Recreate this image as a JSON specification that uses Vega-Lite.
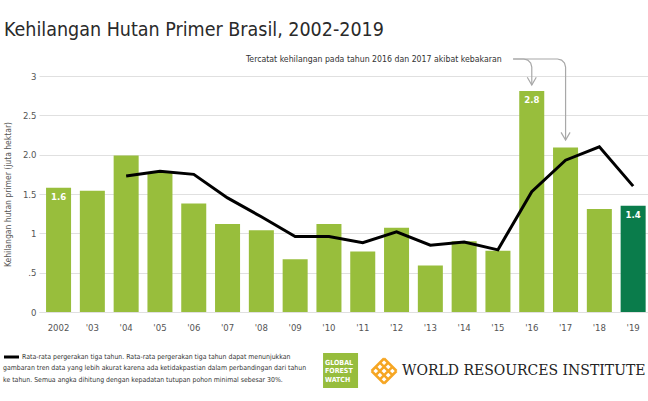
{
  "$schema": "https://vega.github.io/schema/vega-lite/v6.json",
  "width": 609,
  "height": 236,
  "autosize": {"type": "none"},
  "padding": {"left": 39, "top": 76, "right": 0, "bottom": 89},
  "background": "#ffffff",
  "config": {
    "font": "DejaVu Sans Condensed, DejaVu Sans, sans-serif",
    "view": {"stroke": null},
    "axisY": {"domain": false, "ticks": false, "labelColor": "#555555", "labelFontSize": 9.5, "labelPadding": 3, "gridColor": "#e0e0e0", "titleColor": "#555555", "titleFontSize": 8.5, "titleFontWeight": "normal", "titlePadding": 10},
    "axisX": {"domainColor": "#e0e0e0", "ticks": false, "labelColor": "#555555", "labelFontSize": 9.5, "labelPadding": 10, "labelAngle": 0, "grid": false}
  },
  "title": {"text": "Kehilangan Hutan Primer Brasil, 2002-2019", "anchor": "start", "frame": "group", "dx": -35, "fontSize": 19.5, "fontWeight": "normal", "color": "#2a2a2a", "offset": 0, "baseline": "alphabetic"},
  "datasets": {
    "loss": [
      {"yr": "2002", "loss": 1.58, "avg": null, "lbl": "1.6", "period": "past"},
      {"yr": "'03", "loss": 1.54, "avg": null, "lbl": null, "period": "past"},
      {"yr": "'04", "loss": 1.99, "avg": 1.73, "lbl": null, "period": "past"},
      {"yr": "'05", "loss": 1.77, "avg": 1.79, "lbl": null, "period": "past"},
      {"yr": "'06", "loss": 1.38, "avg": 1.75, "lbl": null, "period": "past"},
      {"yr": "'07", "loss": 1.12, "avg": 1.45, "lbl": null, "period": "past"},
      {"yr": "'08", "loss": 1.04, "avg": 1.21, "lbl": null, "period": "past"},
      {"yr": "'09", "loss": 0.67, "avg": 0.96, "lbl": null, "period": "past"},
      {"yr": "'10", "loss": 1.12, "avg": 0.96, "lbl": null, "period": "past"},
      {"yr": "'11", "loss": 0.77, "avg": 0.88, "lbl": null, "period": "past"},
      {"yr": "'12", "loss": 1.07, "avg": 1.02, "lbl": null, "period": "past"},
      {"yr": "'13", "loss": 0.59, "avg": 0.85, "lbl": null, "period": "past"},
      {"yr": "'14", "loss": 0.90, "avg": 0.89, "lbl": null, "period": "past"},
      {"yr": "'15", "loss": 0.78, "avg": 0.79, "lbl": null, "period": "past"},
      {"yr": "'16", "loss": 2.81, "avg": 1.53, "lbl": "2.8", "period": "past"},
      {"yr": "'17", "loss": 2.09, "avg": 1.93, "lbl": null, "period": "past"},
      {"yr": "'18", "loss": 1.31, "avg": 2.10, "lbl": null, "period": "past"},
      {"yr": "'19", "loss": 1.35, "avg": 1.60, "lbl": "1.4", "period": "2019"}
    ],
    "notes": [
      {"kind": "ann", "xq": 2015.11, "val": 3.216, "text": "Tercatat kehilangan pada tahun 2016 dan 2017 akibat kebakaran"},
      {"kind": "foot", "xq": 2000.92, "val": -0.572, "text": "Rata-rata pergerakan tiga tahun. Rata-rata pergerakan tiga tahun dapat menunjukkan"},
      {"kind": "foot", "xq": 2000.36, "val": -0.718, "text": "gambaran tren data yang lebih akurat karena ada ketidakpastian dalam perbandingan dari tahun"},
      {"kind": "foot", "xq": 2000.36, "val": -0.864, "text": "ke tahun. Semua angka dihitung dengan kepadatan tutupan pohon minimal sebesar 30%."},
      {"kind": "gfw", "xq": 2009.885, "val": -0.648, "text": "GLOBAL"},
      {"kind": "gfw", "xq": 2009.885, "val": -0.756, "text": "FOREST"},
      {"kind": "gfw", "xq": 2009.885, "val": -0.864, "text": "WATCH"},
      {"kind": "wri", "xq": 2012.163, "val": -0.75, "text": "WORLD RESOURCES INSTITUTE"},
      {"kind": "gfwbox", "xq": 2010.343, "val": -0.744, "text": ""},
      {"kind": "wriicon", "xq": 2011.63, "val": -0.75, "text": ""},
      {"kind": "tip", "xq": 2016.0, "val": 2.886, "text": ""},
      {"kind": "tip", "xq": 2017.0, "val": 2.186, "text": ""},
      {"kind": "key", "xq": 2000.387, "xq2": 2000.831, "val": -0.572, "text": ""}
    ],
    "arrows": [
      {"arrow": "a16", "seq": 1, "xq": 2015.447, "val": 3.216},
      {"arrow": "a16", "seq": 2, "xq": 2015.763, "val": 3.216},
      {"arrow": "a16", "seq": 3, "xq": 2015.882, "val": 3.202},
      {"arrow": "a16", "seq": 4, "xq": 2015.968, "val": 3.165},
      {"arrow": "a16", "seq": 5, "xq": 2016.0, "val": 3.114},
      {"arrow": "a16", "seq": 6, "xq": 2016.0, "val": 2.886},
      {"arrow": "a17", "seq": 1, "xq": 2015.447, "val": 3.216},
      {"arrow": "a17", "seq": 2, "xq": 2016.763, "val": 3.216},
      {"arrow": "a17", "seq": 3, "xq": 2016.882, "val": 3.202},
      {"arrow": "a17", "seq": 4, "xq": 2016.968, "val": 3.165},
      {"arrow": "a17", "seq": 5, "xq": 2017.0, "val": 3.114},
      {"arrow": "a17", "seq": 6, "xq": 2017.0, "val": 2.186}
    ]
  },
  "resolve": {"scale": {"x": "independent"}},
  "layer": [
    {
      "data": {"name": "loss"},
      "encoding": {
        "x": {"field": "yr", "type": "nominal", "title": null, "sort": null,
              "scale": {"domain": ["2002", "'03", "'04", "'05", "'06", "'07", "'08", "'09", "'10", "'11", "'12", "'13", "'14", "'15", "'16", "'17", "'18", "'19"], "paddingInner": 0.26, "paddingOuter": 0.139, "align": 0.75}},
        "y": {"field": "loss", "type": "quantitative", "title": "Kehilangan hutan primer (juta hektar)",
              "scale": {"domain": [0, 3], "nice": false},
              "axis": {"values": [0, 0.5, 1, 1.5, 2, 2.5, 3], "format": "~g", "labelExpr": "datum.value == 0.5 ? '.5' : datum.value == 2 ? '2.0' : datum.label"}}
      },
      "layer": [
        {
          "mark": {"type": "bar"},
          "encoding": {
            "color": {"field": "period", "type": "nominal", "scale": {"domain": ["past", "2019"], "range": ["#98be3c", "#0a7c4b"]}, "legend": null}
          }
        },
        {
          "transform": [{"filter": "datum.avg != null"}],
          "mark": {"type": "line", "color": "#000000", "strokeWidth": 3},
          "encoding": {"y": {"field": "avg", "type": "quantitative", "title": "Kehilangan hutan primer (juta hektar)",
              "scale": {"domain": [0, 3], "nice": false},
              "axis": {"values": [0, 0.5, 1, 1.5, 2, 2.5, 3], "format": "~g", "labelExpr": "datum.value == 0.5 ? '.5' : datum.value == 2 ? '2.0' : datum.label"}}}
        },
        {
          "transform": [{"filter": "datum.lbl != null"}],
          "mark": {"type": "text", "color": "#ffffff", "baseline": "top", "dy": 4, "fontSize": 9.5, "fontWeight": "bold"},
          "encoding": {"text": {"field": "lbl"}}
        }
      ]
    },
    {
      "encoding": {
        "x": {"field": "xq", "type": "quantitative", "axis": null, "scale": {"domain": [2001.423, 2019.438], "nice": false, "zero": false}},
        "y": {"field": "val", "type": "quantitative", "title": "Kehilangan hutan primer (juta hektar)", "scale": {"domain": [0, 3], "nice": false},
              "axis": {"values": [0, 0.5, 1, 1.5, 2, 2.5, 3], "format": "~g", "labelExpr": "datum.value == 0.5 ? '.5' : datum.value == 2 ? '2.0' : datum.label"}}
      },
      "layer": [
        {
          "data": {"name": "arrows"},
          "mark": {"type": "line", "color": "#a8a8a8", "strokeWidth": 1.2},
          "encoding": {"detail": {"field": "arrow"}, "order": {"field": "seq", "type": "quantitative"}}
        },
        {
          "data": {"name": "notes"},
          "transform": [{"filter": "datum.kind == 'tip'"}],
          "mark": {"type": "point", "shape": "M-1,-1.7L0,0L1,-1.7", "size": 81, "filled": false, "color": "#a8a8a8", "strokeWidth": 1.2, "opacity": 1}
        },
        {
          "data": {"name": "notes"},
          "transform": [{"filter": "datum.kind == 'key'"}],
          "mark": {"type": "rule", "color": "#000000", "strokeWidth": 3},
          "encoding": {"x2": {"field": "xq2"}}
        },
        {
          "data": {"name": "notes"},
          "transform": [{"filter": "datum.kind == 'ann'"}],
          "mark": {"type": "text", "align": "right", "baseline": "middle", "fontSize": 8.7, "color": "#333333"},
          "encoding": {"text": {"field": "text"}}
        },
        {
          "data": {"name": "notes"},
          "transform": [{"filter": "datum.kind == 'foot'"}],
          "mark": {"type": "text", "align": "left", "baseline": "middle", "fontSize": 6.9, "color": "#333333"},
          "encoding": {"text": {"field": "text"}}
        },
        {
          "data": {"name": "notes"},
          "transform": [{"filter": "datum.kind == 'gfwbox'"}],
          "mark": {"type": "point", "shape": "square", "size": 1225, "filled": true, "color": "#97bd3d", "opacity": 1, "strokeWidth": 0}
        },
        {
          "data": {"name": "notes"},
          "transform": [{"filter": "datum.kind == 'gfw'"}],
          "mark": {"type": "text", "align": "left", "baseline": "middle", "fontSize": 7, "fontWeight": "bold", "color": "#ffffff"},
          "encoding": {"text": {"field": "text"}}
        },
        {
          "data": {"name": "notes"},
          "transform": [{"filter": "datum.kind == 'wriicon'"}],
          "mark": {"type": "point", "shape": "M-1,0L0,1M-0.667,-0.333L0.333,0.667M-0.333,-0.667L0.667,0.333M0,-1L1,0M0,-1L-1,0M0.333,-0.667L-0.667,0.333M0.667,-0.333L-0.333,0.667M1,0L0,1", "size": 625, "filled": false, "color": "#f6a623", "strokeWidth": 2.5, "opacity": 1}
        },
        {
          "data": {"name": "notes"},
          "transform": [{"filter": "datum.kind == 'wri'"}],
          "mark": {"type": "text", "align": "left", "baseline": "middle", "fontSize": 14, "font": "DejaVu Serif, serif", "color": "#222222"},
          "encoding": {"text": {"field": "text"}}
        }
      ]
    }
  ]
}
